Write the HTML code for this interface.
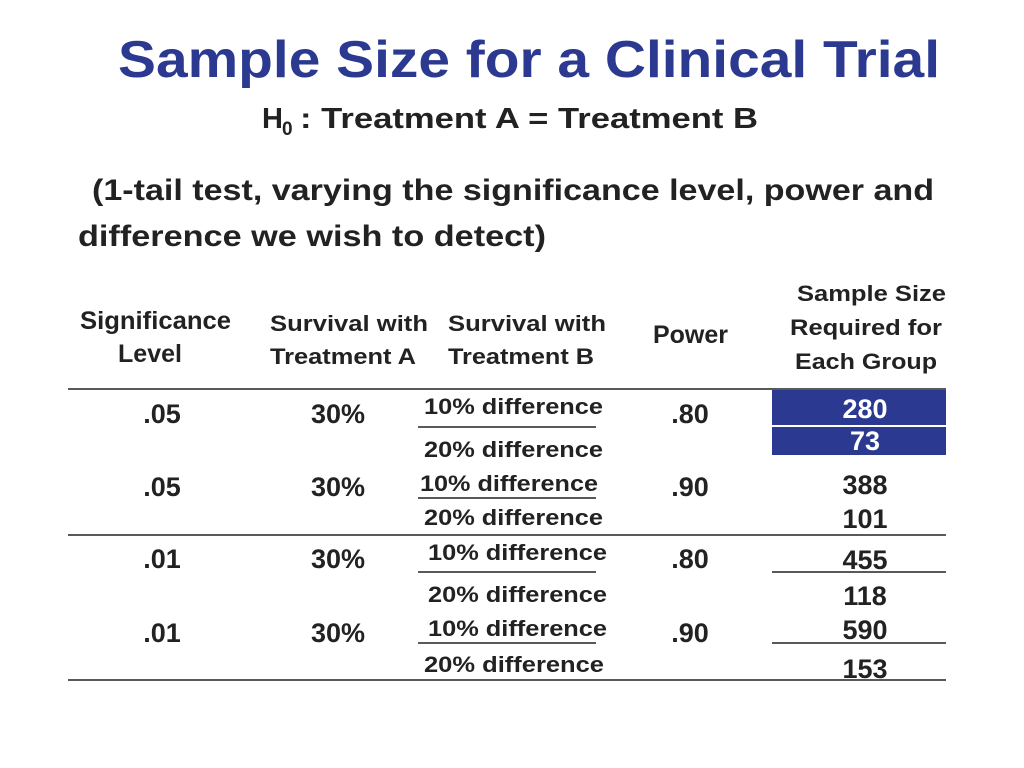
<!DOCTYPE html>
<html><head><meta charset="utf-8"><style>
html,body{margin:0;padding:0;background:#fff;}
svg{display:block;font-family:"Liberation Sans",Arial,sans-serif;font-weight:bold;}
</style></head><body>
<svg width="1024" height="768" viewBox="0 0 1024 768">
<text x="118" y="77" font-size="52" fill="#2b3990" textLength="822" lengthAdjust="spacingAndGlyphs">Sample Size for a Clinical Trial</text>
<g fill="#222">
<text x="262" y="128" font-size="29">H</text>
<text x="282" y="135" font-size="19">0</text>
<text x="300" y="128" font-size="29" textLength="458" lengthAdjust="spacingAndGlyphs"> : Treatment A = Treatment B</text>
</g>
<text x="92" y="200" font-size="30" fill="#222" textLength="842" lengthAdjust="spacingAndGlyphs">(1-tail test, varying the significance level, power and</text>
<text x="78" y="246" font-size="30" fill="#222" textLength="468" lengthAdjust="spacingAndGlyphs">difference we wish to detect)</text>

<g font-size="22" fill="#222">
<text x="80" y="329" font-size="25" textLength="151" lengthAdjust="spacingAndGlyphs">Significance</text>
<text x="150" y="362" font-size="25" text-anchor="middle">Level</text>
<text x="270" y="331" textLength="158" lengthAdjust="spacingAndGlyphs">Survival with</text>
<text x="270" y="364" textLength="146" lengthAdjust="spacingAndGlyphs">Treatment A</text>
<text x="448" y="331" textLength="158" lengthAdjust="spacingAndGlyphs">Survival with</text>
<text x="448" y="364" textLength="146" lengthAdjust="spacingAndGlyphs">Treatment B</text>
<text x="653" y="343" font-size="25" textLength="75" lengthAdjust="spacingAndGlyphs">Power</text>
<text x="797" y="301" textLength="149" lengthAdjust="spacingAndGlyphs">Sample Size</text>
<text x="790" y="335" textLength="152" lengthAdjust="spacingAndGlyphs">Required for</text>
<text x="795" y="369" textLength="142" lengthAdjust="spacingAndGlyphs">Each Group</text>
</g>

<g stroke="#222" stroke-width="1.5">
<line x1="68" y1="389" x2="946" y2="389"/>
<line x1="68" y1="535" x2="946" y2="535"/>
<line x1="68" y1="680" x2="946" y2="680"/>
<line x1="418" y1="427" x2="596" y2="427"/>
<line x1="418" y1="498" x2="596" y2="498"/>
<line x1="418" y1="572" x2="596" y2="572"/>
<line x1="418" y1="643" x2="596" y2="643"/>
<line x1="772" y1="572" x2="946" y2="572"/>
<line x1="772" y1="643" x2="946" y2="643"/>
</g>
<rect x="772" y="390" width="174" height="35" fill="#2b3990"/>
<rect x="772" y="427" width="174" height="28" fill="#2b3990"/>

<g font-size="27" fill="#222" text-anchor="middle">
<text x="162" y="423">.05</text><text x="338" y="423">30%</text><text x="690" y="423">.80</text>
<text x="162" y="496">.05</text><text x="338" y="496">30%</text><text x="690" y="496">.90</text>
<text x="162" y="568">.01</text><text x="338" y="568">30%</text><text x="690" y="568">.80</text>
<text x="162" y="642">.01</text><text x="338" y="642">30%</text><text x="690" y="642">.90</text>
<text x="865" y="418" fill="#fff">280</text>
<text x="865" y="450" fill="#fff">73</text>
<text x="865" y="494">388</text>
<text x="865" y="528">101</text>
<text x="865" y="569">455</text>
<text x="865" y="605">118</text>
<text x="865" y="639">590</text>
<text x="865" y="678">153</text>
</g>
<g font-size="22" fill="#222">
<text x="424" y="414" textLength="179" lengthAdjust="spacingAndGlyphs">10% difference</text>
<text x="424" y="457" textLength="179" lengthAdjust="spacingAndGlyphs">20% difference</text>
<text x="420" y="491" textLength="178" lengthAdjust="spacingAndGlyphs">10% difference</text>
<text x="424" y="525" textLength="179" lengthAdjust="spacingAndGlyphs">20% difference</text>
<text x="428" y="560" textLength="179" lengthAdjust="spacingAndGlyphs">10% difference</text>
<text x="428" y="602" textLength="179" lengthAdjust="spacingAndGlyphs">20% difference</text>
<text x="428" y="636" textLength="179" lengthAdjust="spacingAndGlyphs">10% difference</text>
<text x="424" y="672" textLength="180" lengthAdjust="spacingAndGlyphs">20% difference</text>
</g>
</svg>
</body></html>
